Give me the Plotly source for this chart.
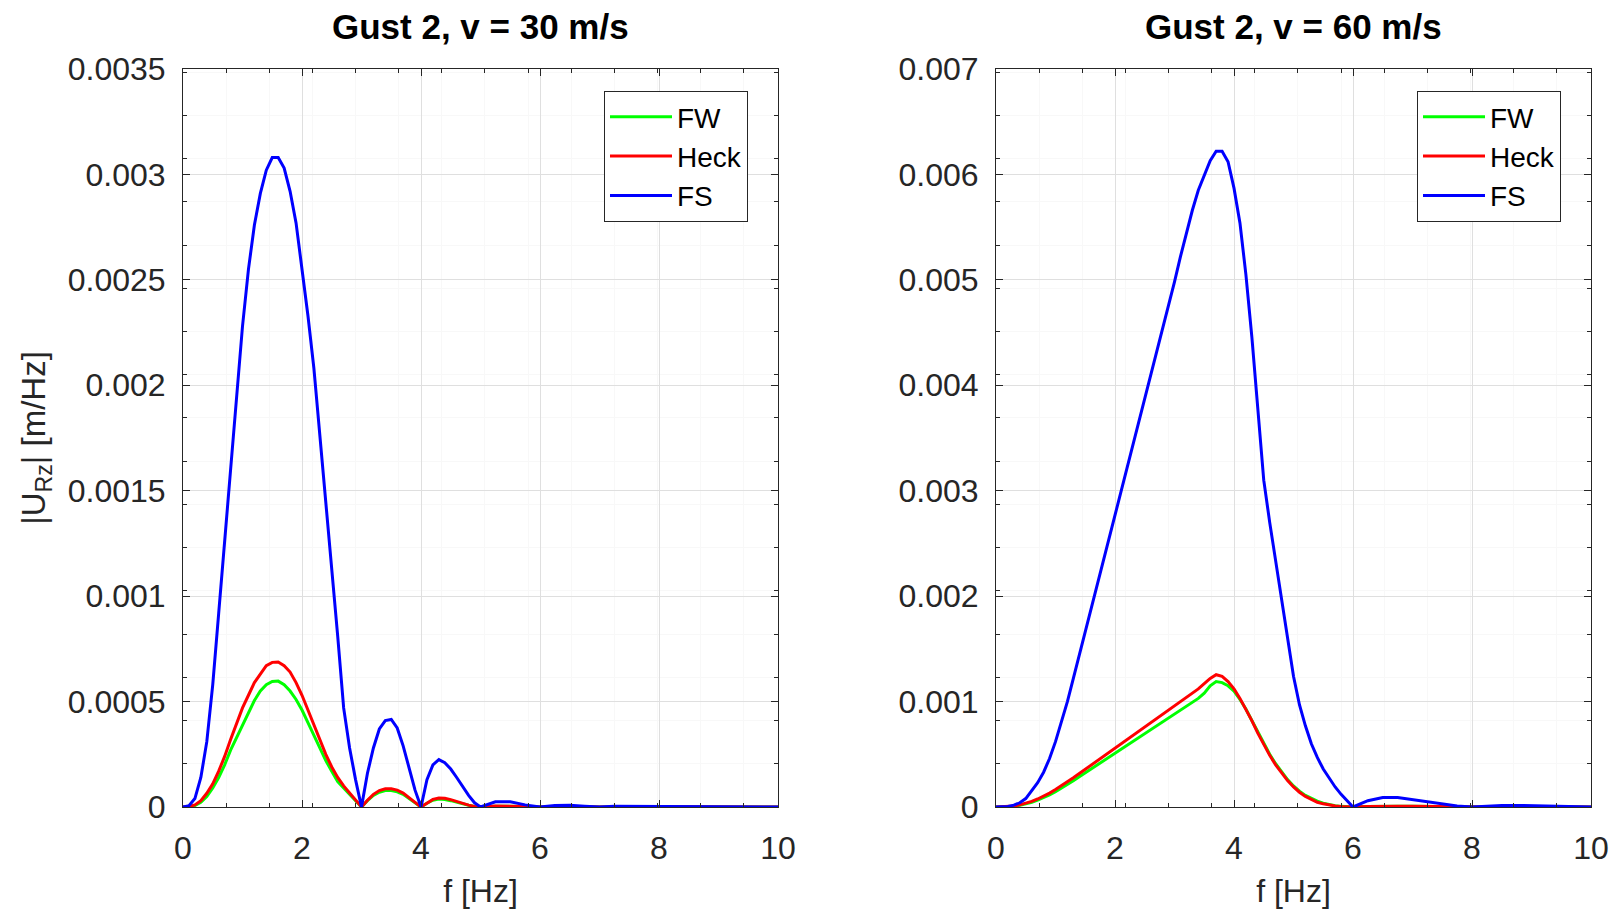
import plotly.graph_objects as go

# ---------------- data ----------------
f30 = [round(0.1 * i, 2) for i in range(51)] + [5.25, 5.5, 5.75, 6.0, 6.25, 6.5, 6.75, 7.0, 7.25, 7.5,
                                                 7.75, 8.0, 8.25, 8.5, 8.75, 9.0, 9.25, 9.5, 9.75, 10.0]
fw30 = [0, 0.000001, 0.000007, 0.000022, 0.00005, 0.00009, 0.00014, 0.0002, 0.00027, 0.00033,
        0.00039, 0.00045, 0.000505, 0.00055, 0.00058, 0.000595, 0.000597, 0.00058, 0.00055, 0.00051,
        0.00046, 0.0004, 0.00034, 0.00028, 0.00022, 0.00017, 0.00012, 0.00009, 0.00006, 0.00003,
        0, 0.00003, 0.000055, 0.00007, 0.000078, 0.000078, 0.000072, 0.00006, 0.00004, 0.00002,
        0, 0.000018, 0.000032, 0.000038, 0.000036, 0.00003, 0.000022, 0.000014, 0.000008, 0.000003,
        0, 0.000004, 0.000004, 0.000002, 0, 0.000001, 0.000001, 0.000001, 0, 0.000001,
        0.000001, 0, 0.000001, 0.000001, 0.000001, 0, 0.000001, 0.000001, 0.000001, 0, 0]
heck30 = [0, 0.000002, 0.00001, 0.00003, 0.000065, 0.00011, 0.00017, 0.00024, 0.00032, 0.0004,
          0.00047, 0.00053, 0.00059, 0.00063, 0.00067, 0.000686, 0.000688, 0.00067, 0.00064, 0.00059,
          0.00053, 0.00046, 0.00039, 0.00032, 0.00025, 0.00019, 0.00014, 0.0001, 0.000065, 0.00003,
          0, 0.000032, 0.00006, 0.000078, 0.000086, 0.000086, 0.00008, 0.000066, 0.000046, 0.000022,
          0, 0.00002, 0.000036, 0.000043, 0.000041, 0.000035, 0.000026, 0.000017, 0.000009, 0.000003,
          0, 0.000005, 0.000005, 0.000002, 0, 0.000001, 0.000001, 0.000001, 0, 0.000001,
          0.000001, 0, 0.000001, 0.000001, 0.000001, 0, 0.000001, 0.000001, 0.000001, 0, 0]
fs30 = [0, 0.000006, 0.00004, 0.00014, 0.00031, 0.00058, 0.00092, 0.00127, 0.00158, 0.00196,
        0.00228, 0.00255, 0.00276, 0.00291, 0.00302, 0.00308, 0.00308, 0.00303, 0.00292, 0.00277,
        0.00256, 0.00233, 0.00208, 0.00177, 0.00143, 0.00115, 0.00081, 0.00047, 0.00028, 0.00013,
        0, 0.00016, 0.00028, 0.00037, 0.00041, 0.000415, 0.000375, 0.00029, 0.00019, 0.00008,
        0, 0.00013, 0.0002, 0.000225, 0.00021, 0.00018, 0.00014, 0.000095, 0.000055, 0.00002,
        0, 0.000025, 0.000025, 0.00001, 0, 0.000007, 0.000008, 0.000004, 0, 0.000003,
        0.000003, 0.000002, 0, 0.000002, 0.000002, 0.000001, 0, 0.000001, 0.000001, 0.000001, 0]

f60 = [round(0.1 * i, 2) for i in range(61)] + [6.25, 6.5, 6.75, 7.0, 7.25, 7.5, 7.75, 8.0,
                                                 8.25, 8.5, 8.75, 9.0, 9.25, 9.5, 9.75, 10.0]
fw60 = [0, 0.000001, 0.000003, 0.000008, 0.000016, 0.000029, 0.000045, 0.000065, 0.000088, 0.000115,
        0.000145, 0.000178, 0.000213, 0.00025, 0.000287, 0.000324, 0.000361, 0.000398, 0.000435, 0.000472,
        0.00051, 0.000547, 0.000584, 0.000621, 0.000658, 0.000695, 0.000732, 0.000769, 0.000806, 0.000843,
        0.00088, 0.000917, 0.000954, 0.00099, 0.00103, 0.00108, 0.00115, 0.00119, 0.00118, 0.00115,
        0.0011, 0.00102, 0.00093, 0.00082, 0.00071, 0.0006, 0.0005, 0.00041, 0.00033, 0.00026,
        0.0002, 0.00015, 0.00011, 0.00008, 0.000055, 0.000037, 0.000023, 0.000013, 0.000006, 0.000002,
        0, 0.000005, 0.000008, 0.000008, 0.000006, 0.000004, 0.000002, 0.000001, 0,
        0.000001, 0.000002, 0.000002, 0.000002, 0.000001, 0.000001, 0.000001, 0]
heck60 = [0, 0.000001, 0.000004, 0.00001, 0.00002, 0.000035, 0.000053, 0.000076, 0.000102, 0.000132,
          0.000165, 0.0002, 0.000238, 0.000277, 0.000317, 0.000357, 0.000398, 0.000439, 0.00048, 0.00052,
          0.00056, 0.0006, 0.00064, 0.00068, 0.00072, 0.00076, 0.0008, 0.00084, 0.00088, 0.00092,
          0.00096, 0.001, 0.00104, 0.00108, 0.00112, 0.00117, 0.00122, 0.001255, 0.00124, 0.00119,
          0.00112, 0.00103, 0.00093, 0.00082, 0.0007, 0.00059, 0.00049, 0.0004, 0.00032, 0.00025,
          0.00019, 0.00014, 0.0001, 0.00007, 0.000045, 0.00003, 0.000018, 0.00001, 0.000005, 0.000002,
          0, 0.000005, 0.000008, 0.000008, 0.000006, 0.000004, 0.000002, 0.000001, 0,
          0.000001, 0.000002, 0.000002, 0.000002, 0.000001, 0.000001, 0.000001, 0]
fs60 = [0, 0.000001, 0.000005, 0.000018, 0.00004, 0.00008, 0.00015, 0.00023, 0.00033, 0.00046,
        0.00062, 0.0008, 0.001, 0.00122, 0.00144, 0.00166, 0.00188, 0.0021, 0.00232, 0.00254,
        0.00276, 0.00298, 0.0032, 0.00342, 0.00364, 0.00386, 0.00408, 0.0043, 0.00452, 0.00475,
        0.00498, 0.00522, 0.00545, 0.00566, 0.00585, 0.006, 0.00613, 0.00622, 0.00622, 0.00612,
        0.00587, 0.00554, 0.00505, 0.00446, 0.00374, 0.0031, 0.0027, 0.00233, 0.00196, 0.00158,
        0.00124, 0.00097, 0.00077, 0.0006, 0.00047, 0.00036, 0.00027, 0.00019, 0.00012, 0.00006,
        0, 0.00006, 0.00009, 0.00009, 0.00007, 0.00005, 0.00003, 0.00001, 0,
        0.00001, 0.000015, 0.000015, 0.000012, 0.000008, 0.000005, 0.000002, 0]

series_names = ["FW", "Heck", "FS"]
series_colors = ["#00ff00", "#ff0000", "#0000ff"]

x_ticks = [0, 2, 4, 6, 8, 10]
y30_ticks = [0, 0.0005, 0.001, 0.0015, 0.002, 0.0025, 0.003, 0.0035]
y30_labels = ["0", "0.0005", "0.001", "0.0015", "0.002", "0.0025", "0.003", "0.0035"]
y60_ticks = [0, 0.001, 0.002, 0.003, 0.004, 0.005, 0.006, 0.007]
y60_labels = ["0", "0.001", "0.002", "0.003", "0.004", "0.005", "0.006", "0.007"]

titles = ["Gust 2, v = 30 m/s", "Gust 2, v = 60 m/s"]

# ---------------- figure ----------------
W, H = 1616, 910
FONT = "Liberation Sans, Arial, Helvetica, sans-serif"
AX = "#262626"

fig = go.Figure()

for name, col, ys in zip(series_names, series_colors, [fw30, heck30, fs30]):
    fig.add_trace(go.Scatter(x=f30, y=ys, mode="lines", name=name,
                             line=dict(color=col, width=3),
                             xaxis="x", yaxis="y", legend="legend"))
for name, col, ys in zip(series_names, series_colors, [fw60, heck60, fs60]):
    fig.add_trace(go.Scatter(x=f60, y=ys, mode="lines", name=name,
                             line=dict(color=col, width=3),
                             xaxis="x2", yaxis="y2", legend="legend2"))

xl = [183 / W, 778 / W]
xr = [996 / W, 1591 / W]
yd = [(H - 807) / H, (H - 69) / H]


def xaxis(domain, anchor):
    return dict(domain=domain, anchor=anchor, range=[0, 10], tickvals=x_ticks,
                automargin=False,
                ticks="inside", ticklen=7, tickcolor=AX, tickwidth=1,
                showline=True, linecolor=AX, linewidth=1, mirror="ticks",
                showgrid=True, gridcolor="#dfdfdf", gridwidth=1, zeroline=False,
                tickfont=dict(family=FONT, size=32, color=AX),
                ticklabelstandoff=13,
                minor=dict(tick0=0, dtick=0.725, ticks="inside", ticklen=4, tickcolor=AX,
                           showgrid=True, gridcolor="#f8f8f8"),
                title=dict(text="f [Hz]", font=dict(family=FONT, size=32, color=AX), standoff=14))


def yaxis(domain, anchor, tv, tt, mdt, title=None):
    d = dict(domain=domain, anchor=anchor, range=[0, tv[-1]], tickvals=tv, ticktext=tt,
             automargin=False,
             ticks="inside", ticklen=7, tickcolor=AX, tickwidth=1,
             showline=True, linecolor=AX, linewidth=1, mirror="ticks",
             showgrid=True, gridcolor="#dfdfdf", gridwidth=1, zeroline=False,
             tickfont=dict(family=FONT, size=32, color=AX),
             ticklabelstandoff=10,
             minor=dict(tick0=0, dtick=mdt, ticks="inside", ticklen=4, tickcolor=AX,
                        showgrid=True, gridcolor="#f8f8f8"))
    if title:
        d["title"] = dict(text=title, font=dict(family=FONT, size=33, color=AX), standoff=12)
    return d


legend_common = dict(bgcolor="white", bordercolor=AX, borderwidth=1,
                     font=dict(family=FONT, size=28, color="black"),
                     itemwidth=62, xanchor="left", yanchor="top", tracegroupgap=0)

fig.update_layout(
    width=W, height=H,
    margin=dict(l=0, r=0, t=0, b=0, autoexpand=False),
    paper_bgcolor="white", plot_bgcolor="white",
    xaxis=xaxis(xl, "y"),
    yaxis=yaxis(yd, "x", y30_ticks, y30_labels, 0.000205, "|U<sub>Rz</sub>| [m/Hz]"),
    xaxis2=xaxis(xr, "y2"),
    yaxis2=yaxis(yd, "x2", y60_ticks, y60_labels, 0.00041),
    legend=dict(x=604 / W, y=(H - 91) / H, **legend_common),
    legend2=dict(x=1417 / W, y=(H - 91) / H, **legend_common),
    showlegend=True,
)

for t, dom in zip(titles, [xl, xr]):
    fig.add_annotation(text=t, xref="paper", yref="paper", x=(dom[0] + dom[1]) / 2,
                       y=(H - 26) / H, xanchor="center", yanchor="middle", showarrow=False,
                       font=dict(family=FONT, size=35, color="black", weight="bold"))

fig.write_html("out.html")
